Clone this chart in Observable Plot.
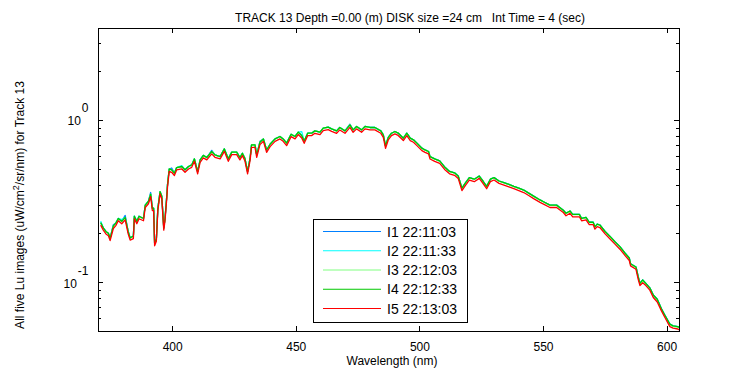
<!DOCTYPE html>
<html><head><meta charset="utf-8">
<script src="https://cdn.jsdelivr.net/npm/d3@7"></script>
<script src="https://cdn.jsdelivr.net/npm/@observablehq/plot@0.6"></script>
<style>
body{margin:0;background:#fff;}
svg{font-family:"Liberation Sans",Arial,sans-serif;}
svg text{white-space:pre;}
</style>
</head><body><div id="chart"></div>
<script>
const wavelength = [
371, 372, 373, 374, 374.7, 376, 377, 378, 379.4, 380.8,
382, 382.8, 384.1, 384.5, 385.5, 386.4, 388.2, 388.9, 390.2, 391.1,
391.8, 392.3, 392.7, 393.4, 394, 394.9, 395.6, 396.4, 396.9, 397.6,
397.9, 398.6, 399.6, 400.7, 401.6, 403.7, 405, 406.4, 407.7, 408.8,
410.1, 411.1, 412.4, 413.8, 415.8, 417.1, 419.2, 420.9, 422.5, 423.9,
425.9, 427.2, 428.2, 429.2, 430.3, 431.3, 431.9, 433.3, 434, 435.3,
436.7, 438, 439.4, 441.4, 443.4, 444.7, 446.1, 447.9, 449.5, 450.8,
452.2, 453.2, 454.6, 456.2, 457.5, 459.6, 460.9, 462.9, 464.3, 466.3,
467.6, 469.7, 471.7, 473, 474.4, 476.4, 477.8, 479.8, 481.8, 484.2,
485.2, 486.1, 487.2, 488.5, 489.9, 491.2, 493.3, 494.7, 496.1, 497.4,
498.8, 500.8, 502.1, 503.5, 504.1, 506, 508, 510, 512, 514,
515.5, 517, 518.5, 520, 522, 524, 525.5, 527, 528.5, 530,
532, 534, 536, 538, 540, 542, 544, 546, 548.6, 550,
552.6, 555.3, 558, 559.1, 560.7, 561.8, 564.5, 565.4, 567.2, 568.5,
570.1, 570.8, 571.7, 572.8, 574.9, 576.9, 578.9, 580.9, 583, 584.7,
585.2, 587.4, 588.3, 589, 590.1, 591.4, 593, 594.4, 596, 597.7,
599.1, 601.1, 602.4, 604.3, 605];

const I1 = [
0.233, 0.217, 0.207, 0.202, 0.188, 0.228, 0.233, 0.249, 0.239, 0.26,
0.207, 0.189, 0.194, 0.257, 0.239, 0.257, 0.249, 0.301, 0.318, 0.36,
0.288, 0.288, 0.175, 0.186, 0.288, 0.365, 0.342, 0.218, 0.249, 0.341,
0.401, 0.503, 0.51, 0.474, 0.513, 0.521, 0.497, 0.521, 0.533, 0.581,
0.485, 0.572, 0.61, 0.592, 0.655, 0.615, 0.6, 0.669, 0.581, 0.639,
0.639, 0.592, 0.629, 0.586, 0.485, 0.586, 0.708, 0.708, 0.615, 0.745,
0.771, 0.659, 0.715, 0.771, 0.798, 0.771, 0.726, 0.824, 0.798, 0.849,
0.809, 0.749, 0.836, 0.836, 0.864, 0.849, 0.898, 0.911, 0.889, 0.864,
0.907, 0.864, 0.95, 0.877, 0.92, 0.877, 0.92, 0.907, 0.907, 0.864,
0.817, 0.699, 0.787, 0.836, 0.857, 0.838, 0.779, 0.836, 0.779, 0.761,
0.726, 0.676, 0.659, 0.645, 0.6, 0.58, 0.564, 0.518, 0.486, 0.476,
0.455, 0.383, 0.414, 0.445, 0.435, 0.455, 0.424, 0.393, 0.435, 0.445,
0.424, 0.414, 0.404, 0.393, 0.383, 0.373, 0.357, 0.342, 0.324, 0.316,
0.301, 0.301, 0.28, 0.268, 0.277, 0.264, 0.264, 0.249, 0.253, 0.236,
0.236, 0.221, 0.23, 0.227, 0.207, 0.193, 0.179, 0.167, 0.152, 0.142,
0.131, 0.125, 0.109, 0.099, 0.104, 0.099, 0.093, 0.084, 0.079, 0.069,
0.063, 0.0555, 0.0542, 0.0536, 0.0528];

const I2 = [
0.238, 0.217, 0.207, 0.2, 0.188, 0.224, 0.233, 0.249, 0.245, 0.253,
0.207, 0.189, 0.194, 0.257, 0.239, 0.257, 0.249, 0.301, 0.318, 0.352,
0.288, 0.288, 0.175, 0.186, 0.288, 0.365, 0.342, 0.218, 0.249, 0.341,
0.401, 0.503, 0.497, 0.474, 0.513, 0.527, 0.497, 0.521, 0.533, 0.581,
0.485, 0.572, 0.61, 0.592, 0.645, 0.615, 0.6, 0.669, 0.581, 0.639,
0.639, 0.592, 0.629, 0.586, 0.485, 0.586, 0.708, 0.708, 0.615, 0.736,
0.771, 0.659, 0.715, 0.771, 0.798, 0.771, 0.726, 0.824, 0.798, 0.849,
0.855, 0.749, 0.836, 0.836, 0.864, 0.849, 0.898, 0.911, 0.889, 0.864,
0.907, 0.864, 0.941, 0.877, 0.92, 0.877, 0.92, 0.907, 0.907, 0.864,
0.817, 0.699, 0.787, 0.836, 0.857, 0.838, 0.779, 0.836, 0.779, 0.761,
0.726, 0.676, 0.659, 0.645, 0.6, 0.58, 0.564, 0.518, 0.486, 0.476,
0.455, 0.383, 0.414, 0.445, 0.435, 0.455, 0.424, 0.393, 0.435, 0.445,
0.424, 0.414, 0.404, 0.393, 0.383, 0.373, 0.357, 0.342, 0.324, 0.316,
0.301, 0.301, 0.28, 0.268, 0.277, 0.264, 0.264, 0.249, 0.253, 0.236,
0.236, 0.221, 0.23, 0.227, 0.207, 0.193, 0.179, 0.167, 0.152, 0.142,
0.131, 0.125, 0.109, 0.099, 0.104, 0.099, 0.093, 0.084, 0.079, 0.069,
0.063, 0.0555, 0.0542, 0.0536, 0.0528];

const I3 = [
0.232, 0.216, 0.206, 0.201, 0.187, 0.223, 0.232, 0.248, 0.238, 0.252,
0.206, 0.188, 0.193, 0.256, 0.238, 0.256, 0.248, 0.3, 0.317, 0.351,
0.287, 0.287, 0.174, 0.185, 0.287, 0.364, 0.341, 0.217, 0.248, 0.34,
0.4, 0.502, 0.496, 0.473, 0.512, 0.52, 0.496, 0.52, 0.532, 0.58,
0.484, 0.571, 0.609, 0.591, 0.644, 0.614, 0.599, 0.668, 0.58, 0.638,
0.638, 0.591, 0.628, 0.585, 0.484, 0.585, 0.707, 0.707, 0.614, 0.735,
0.77, 0.658, 0.714, 0.77, 0.797, 0.77, 0.725, 0.823, 0.797, 0.848,
0.808, 0.748, 0.835, 0.835, 0.863, 0.848, 0.897, 0.91, 0.888, 0.863,
0.906, 0.863, 0.94, 0.876, 0.919, 0.876, 0.919, 0.906, 0.906, 0.863,
0.816, 0.698, 0.786, 0.835, 0.856, 0.837, 0.778, 0.835, 0.778, 0.76,
0.725, 0.675, 0.658, 0.644, 0.599, 0.579, 0.563, 0.517, 0.485, 0.475,
0.454, 0.382, 0.413, 0.444, 0.434, 0.454, 0.423, 0.392, 0.434, 0.444,
0.423, 0.413, 0.403, 0.392, 0.382, 0.372, 0.356, 0.341, 0.323, 0.315,
0.3, 0.3, 0.279, 0.267, 0.276, 0.263, 0.263, 0.248, 0.252, 0.235,
0.235, 0.22, 0.229, 0.226, 0.206, 0.192, 0.178, 0.166, 0.151, 0.141,
0.13, 0.124, 0.108, 0.098, 0.103, 0.098, 0.092, 0.083, 0.078, 0.068,
0.062, 0.055, 0.0538, 0.0532, 0.0524];

const I4 = [
0.233, 0.217, 0.207, 0.202, 0.188, 0.224, 0.233, 0.249, 0.239, 0.253,
0.207, 0.189, 0.194, 0.257, 0.239, 0.257, 0.249, 0.301, 0.318, 0.352,
0.288, 0.288, 0.175, 0.186, 0.288, 0.365, 0.342, 0.218, 0.249, 0.341,
0.401, 0.503, 0.497, 0.474, 0.513, 0.521, 0.497, 0.521, 0.533, 0.581,
0.485, 0.572, 0.61, 0.592, 0.645, 0.615, 0.6, 0.669, 0.581, 0.639,
0.639, 0.592, 0.629, 0.586, 0.485, 0.586, 0.708, 0.708, 0.615, 0.736,
0.771, 0.659, 0.715, 0.771, 0.798, 0.771, 0.726, 0.824, 0.798, 0.849,
0.809, 0.749, 0.836, 0.836, 0.864, 0.849, 0.898, 0.911, 0.889, 0.864,
0.907, 0.864, 0.941, 0.877, 0.92, 0.877, 0.92, 0.907, 0.907, 0.864,
0.817, 0.699, 0.787, 0.836, 0.857, 0.838, 0.779, 0.836, 0.779, 0.761,
0.726, 0.676, 0.659, 0.645, 0.6, 0.58, 0.564, 0.518, 0.486, 0.476,
0.455, 0.383, 0.414, 0.445, 0.435, 0.455, 0.424, 0.393, 0.435, 0.445,
0.424, 0.414, 0.404, 0.393, 0.383, 0.373, 0.357, 0.342, 0.324, 0.316,
0.301, 0.301, 0.28, 0.268, 0.277, 0.264, 0.264, 0.249, 0.253, 0.236,
0.236, 0.221, 0.23, 0.227, 0.207, 0.193, 0.179, 0.167, 0.152, 0.142,
0.131, 0.125, 0.109, 0.099, 0.104, 0.099, 0.093, 0.084, 0.079, 0.069,
0.063, 0.0555, 0.0542, 0.0536, 0.0528];

const I5 = [
0.225, 0.21, 0.2, 0.195, 0.182, 0.216, 0.225, 0.241, 0.231, 0.244,
0.2, 0.183, 0.187, 0.248, 0.231, 0.248, 0.241, 0.291, 0.307, 0.34,
0.278, 0.278, 0.169, 0.18, 0.278, 0.353, 0.33, 0.211, 0.241, 0.329,
0.387, 0.486, 0.48, 0.458, 0.496, 0.503, 0.48, 0.503, 0.515, 0.561,
0.469, 0.553, 0.589, 0.572, 0.623, 0.594, 0.58, 0.646, 0.561, 0.617,
0.617, 0.572, 0.608, 0.566, 0.469, 0.566, 0.684, 0.684, 0.594, 0.711,
0.745, 0.637, 0.691, 0.745, 0.771, 0.745, 0.701, 0.796, 0.771, 0.82,
0.782, 0.724, 0.808, 0.808, 0.835, 0.82, 0.868, 0.88, 0.859, 0.835,
0.876, 0.835, 0.909, 0.847, 0.889, 0.847, 0.889, 0.876, 0.876, 0.835,
0.789, 0.675, 0.76, 0.808, 0.828, 0.81, 0.753, 0.808, 0.753, 0.735,
0.701, 0.653, 0.637, 0.623, 0.58, 0.56, 0.545, 0.5, 0.47, 0.46,
0.44, 0.37, 0.4, 0.43, 0.42, 0.44, 0.41, 0.38, 0.42, 0.43,
0.41, 0.4, 0.39, 0.38, 0.37, 0.36, 0.345, 0.33, 0.313, 0.305,
0.291, 0.291, 0.271, 0.259, 0.268, 0.255, 0.255, 0.241, 0.244, 0.228,
0.228, 0.214, 0.222, 0.219, 0.2, 0.186, 0.173, 0.161, 0.147, 0.137,
0.127, 0.121, 0.105, 0.096, 0.1, 0.096, 0.09, 0.081, 0.076, 0.067,
0.061, 0.0536, 0.0524, 0.0518, 0.051];

const seriesNames = ["I1 22:11:03", "I2 22:11:33", "I3 22:12:03", "I4 22:12:33", "I5 22:13:03"];
const seriesColors = ["#0080ff", "#00ffff", "#80ff80", "#00c800", "#ff0000"];
const xTicks = [400, 450, 500, 550, 600];
const yMajor = [0.1, 1];
const yMinor = [0.06, 0.07, 0.08, 0.09, 0.2, 0.3, 0.4, 0.5, 0.6, 0.7, 0.8, 0.9, 2, 3];
const yTickLabels = [{value: 1, exp: "0"}, {value: 0.1, exp: "-1"}];
const titleText = "TRACK 13 Depth =0.00 (m) DISK size =24 cm   Int Time = 4 (sec)";
const xLabelText = "Wavelength (nm)";
const yLabelParts = ["All five Lu images (uW/cm", "2", "/sr/nm) for Track 13"];

const seriesArrays = [I1, I2, I3, I4, I5];
const rows = seriesArrays.flatMap((arr, s) => arr.map((v, i) => ({wl: wavelength[i], v, series: seriesNames[s]})));

const ctx = document.createElement("canvas").getContext("2d");
ctx.font = "12px 'Liberation Sans', Arial, sans-serif";

const yLabelMarks = yTickLabels.flatMap(t => {
  const w = ctx.measureText(t.exp).width;
  return [
    Plot.text([t], {y: "value", text: d => d.exp, frameAnchor: "left", textAnchor: "end", dx: -10, dy: -12}),
    Plot.text([t], {y: "value", text: () => "10", frameAnchor: "left", textAnchor: "end", dx: -11 - w, dy: 1})
  ];
});

const plot = Plot.plot({
  width: 750, height: 375,
  marginLeft: 98, marginRight: 71, marginTop: 28, marginBottom: 44,
  style: {fontFamily: "'Liberation Sans', Arial, sans-serif", fontSize: "12px", background: "white", color: "black", overflow: "visible"},
  x: {domain: [370, 605]},
  y: {type: "log", domain: [0.05, 3.7], axis: null},
  color: {domain: seriesNames, range: seriesColors},
  marks: [
    Plot.line(rows, {x: "wl", y: "v", z: "series", stroke: "series", strokeWidth: 1.3, clip: true}),
    Plot.frame({stroke: "black", strokeWidth: 1}),
    Plot.axisX(xTicks, {anchor: "bottom", tickSize: 0, tickPadding: 11, label: null}),
    ...yLabelMarks,
    Plot.text([titleText], {text: d => d, frameAnchor: "top", dy: -15, dx: 21}),
    Plot.text([xLabelText], {text: d => d, frameAnchor: "bottom", dy: 33, dx: 3})
  ]
});

const svg = d3.select(plot);
const xs = plot.scale("x"), ys = plot.scale("y");
const [xLeft, xRight] = xs.range;
const [yBottom, yTop] = ys.range;

// inward ticks on all four sides, placed through the Plot scales
const tk = svg.append("g").attr("stroke", "black").attr("stroke-width", 1).attr("shape-rendering", "crispEdges");
xTicks.forEach(v => {
  const x = Math.round(xs.apply(v)) + 0.5;
  tk.append("line").attr("x1", x).attr("x2", x).attr("y1", yBottom).attr("y2", yBottom - 5);
  tk.append("line").attr("x1", x).attr("x2", x).attr("y1", yTop).attr("y2", yTop + 5);
});
[[yMajor, 5], [yMinor, 3]].forEach(([vals, len]) => vals.forEach(v => {
  const y = Math.round(ys.apply(v)) + 0.5;
  tk.append("line").attr("x1", xLeft).attr("x2", xLeft + len).attr("y1", y).attr("y2", y);
  tk.append("line").attr("x1", xRight).attr("x2", xRight - len).attr("y1", y).attr("y2", y);
}));

// rotated y-axis title with superscript
const yl = svg.append("text")
  .attr("transform", "translate(24,205) rotate(-90)")
  .attr("text-anchor", "middle")
  .attr("font-size", 12)
  .attr("fill", "black");
yl.append("tspan").text(yLabelParts[0]);
yl.append("tspan").attr("dy", -5).attr("font-size", 9).text(yLabelParts[1]);
yl.append("tspan").attr("dy", 5).text(yLabelParts[2]);

// legend box
const lg = svg.append("g").attr("font-size", 14).attr("text-anchor", "start");
lg.append("rect").attr("x", 313.5).attr("y", 219.5).attr("width", 154).attr("height", 103)
  .attr("fill", "white").attr("stroke", "black").attr("stroke-width", 1);
seriesNames.forEach((name, i) => {
  const y = 231.5 + i * 19.25;
  lg.append("line").attr("x1", 323).attr("x2", 381).attr("y1", y).attr("y2", y)
    .attr("stroke", seriesColors[i]).attr("stroke-width", 1);
  lg.append("text").attr("x", 387).attr("y", y).attr("dy", "0.36em").attr("fill", "black")
    .attr("text-anchor", "start").text(name);
});

document.getElementById("chart").appendChild(plot);
</script>
</body></html>
